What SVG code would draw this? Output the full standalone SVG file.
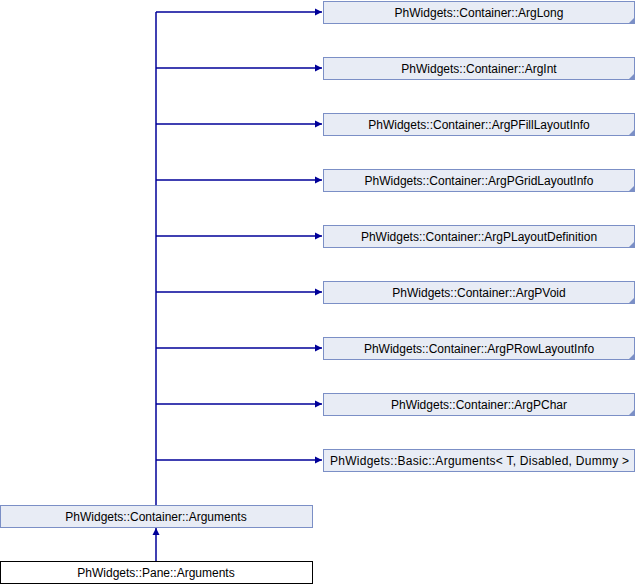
<svg xmlns="http://www.w3.org/2000/svg" width="636" height="584" viewBox="0 0 636 584">
<defs>
<style>
.b{fill:#e8ecf5;stroke:#7b8fc6;stroke-width:1}
.w{fill:#ffffff;stroke:#000000;stroke-width:1}
.c{fill:#7b8fc6}
.t{font-family:"Liberation Sans",Arial,sans-serif;font-size:12px;fill:#000000;text-anchor:middle}
.e{fill:none;stroke:#000099;stroke-width:1.5}
</style>
<marker id="a" markerWidth="8" markerHeight="8" refX="7" refY="4" orient="auto" markerUnits="userSpaceOnUse">
<path d="M0,0.5 L7,4 L0,7.5 Z" fill="#000099"/>
</marker>
</defs>
<rect width="636" height="584" fill="#ffffff"/>
<g id="edges">
<path class="e" d="M156,505 V12"/>
<path class="e" d="M156,12 H322" marker-end="url(#a)"/>
<path class="e" d="M156,68 H322" marker-end="url(#a)"/>
<path class="e" d="M156,124 H322" marker-end="url(#a)"/>
<path class="e" d="M156,180 H322" marker-end="url(#a)"/>
<path class="e" d="M156,236 H322" marker-end="url(#a)"/>
<path class="e" d="M156,292 H322" marker-end="url(#a)"/>
<path class="e" d="M156,348 H322" marker-end="url(#a)"/>
<path class="e" d="M156,404 H322" marker-end="url(#a)"/>
<path class="e" d="M156,460 H322" marker-end="url(#a)"/>
<path class="e" d="M156,561 V528" marker-end="url(#a)"/>
</g>
<g id="n1"><rect class="b" x="323.5" y="1.5" width="311" height="22"/><path class="c" d="M635,17 L635,24 L628,24 Z"/><text class="t" x="479" y="16.5">PhWidgets::Container::ArgLong</text></g>
<g id="n2"><rect class="b" x="323.5" y="57.5" width="311" height="22"/><path class="c" d="M635,73 L635,80 L628,80 Z"/><text class="t" x="479" y="72.5">PhWidgets::Container::ArgInt</text></g>
<g id="n3"><rect class="b" x="323.5" y="113.5" width="311" height="22"/><path class="c" d="M635,129 L635,136 L628,136 Z"/><text class="t" x="479" y="128.5">PhWidgets::Container::ArgPFillLayoutInfo</text></g>
<g id="n4"><rect class="b" x="323.5" y="169.5" width="311" height="22"/><path class="c" d="M635,185 L635,192 L628,192 Z"/><text class="t" x="479" y="184.5">PhWidgets::Container::ArgPGridLayoutInfo</text></g>
<g id="n5"><rect class="b" x="323.5" y="225.5" width="311" height="22"/><path class="c" d="M635,241 L635,248 L628,248 Z"/><text class="t" x="479" y="240.5">PhWidgets::Container::ArgPLayoutDefinition</text></g>
<g id="n6"><rect class="b" x="323.5" y="281.5" width="311" height="22"/><path class="c" d="M635,297 L635,304 L628,304 Z"/><text class="t" x="479" y="296.5">PhWidgets::Container::ArgPVoid</text></g>
<g id="n7"><rect class="b" x="323.5" y="337.5" width="311" height="22"/><path class="c" d="M635,353 L635,360 L628,360 Z"/><text class="t" x="479" y="352.5">PhWidgets::Container::ArgPRowLayoutInfo</text></g>
<g id="n8"><rect class="b" x="323.5" y="393.5" width="311" height="22"/><path class="c" d="M635,409 L635,416 L628,416 Z"/><text class="t" x="479" y="408.5">PhWidgets::Container::ArgPChar</text></g>
<g id="n9"><rect class="b" x="323.5" y="449.5" width="311" height="22"/><text class="t" x="479.5" y="464.5" textLength="299" lengthAdjust="spacing">PhWidgets::Basic::Arguments&lt; T, Disabled, Dummy &gt;</text></g>
<g id="n10"><rect class="b" x="0.5" y="505.5" width="312" height="22"/><text class="t" x="156" y="520.5">PhWidgets::Container::Arguments</text></g>
<g id="n11"><rect class="w" x="0.5" y="561.5" width="312" height="22"/><text class="t" x="156" y="576.5">PhWidgets::Pane::Arguments</text></g>
</svg>
